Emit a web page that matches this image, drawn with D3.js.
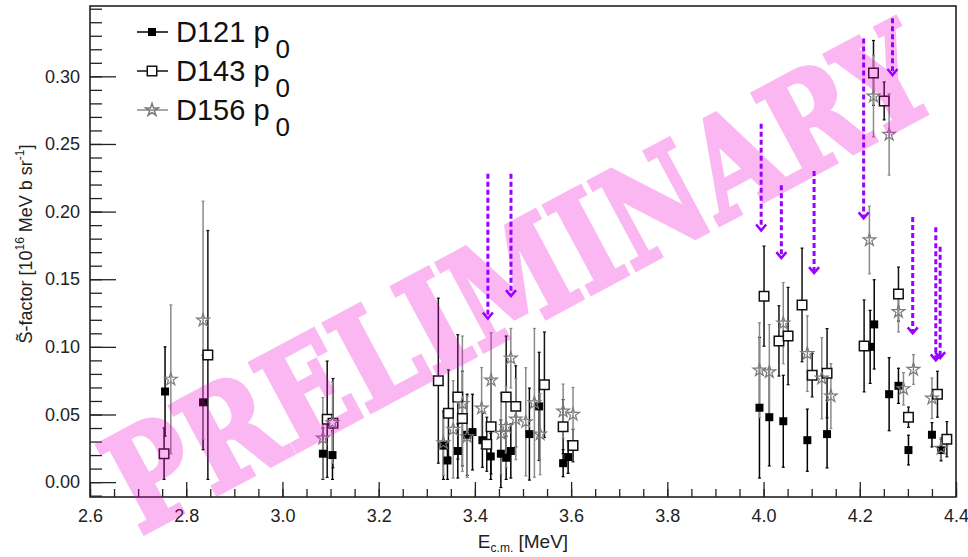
<!DOCTYPE html>
<html>
<head>
<meta charset="utf-8">
<script src="https://cdn.jsdelivr.net/npm/d3@7"></script>
<style>
  body { margin: 0; background: #fff; }
  text { font-family: "Liberation Sans", Arial, sans-serif; }
</style>
</head>
<body>
<div id="vis"></div>
<script>
// data: energy [MeV], S-factor, error
const D121_E   = [2.756, 2.835, 3.084, 3.104, 3.3345, 3.343, 3.3645, 3.384, 3.395, 3.4156, 3.433, 3.454, 3.465, 3.4747, 3.5133, 3.5335, 3.5834, 3.5938, 3.9915, 4.012, 4.041, 4.091, 4.132, 4.2216, 4.23, 4.261, 4.2804, 4.3012, 4.35, 4.369];
const D121_S   = [0.067, 0.059, 0.021, 0.020, 0.027, 0.016, 0.023, 0.035, 0.037, 0.031, 0.019, 0.021, 0.018, 0.023, 0.0355, 0.056, 0.014, 0.0185, 0.055, 0.048, 0.045, 0.031, 0.0355, 0.100, 0.1166, 0.065, 0.0712, 0.0237, 0.035, 0.0237];
const D121_ERR = [0.033, 0.035, 0.019, 0.018, 0.025, 0.014, 0.020, 0.030, 0.028, 0.020, 0.017, 0.025, 0.016, 0.020, 0.034, 0.040, 0.010, 0.012, 0.052, 0.036, 0.034, 0.023, 0.025, 0.027, 0.033, 0.027, 0.013, 0.011, 0.009, 0.008];

const D143_E   = [2.754, 2.845, 3.093, 3.105, 3.324, 3.345, 3.3645, 3.374, 3.4247, 3.4337, 3.465, 3.485, 3.5445, 3.5834, 3.604, 4.001, 4.032, 4.051, 4.080, 4.101, 4.132, 4.209, 4.2285, 4.2507, 4.2804, 4.3012, 4.3615, 4.381];
const D143_S   = [0.021, 0.094, 0.0465, 0.0436, 0.075, 0.051, 0.063, 0.047, 0.028, 0.041, 0.063, 0.056, 0.072, 0.041, 0.027, 0.1375, 0.1044, 0.108, 0.131, 0.079, 0.0805, 0.1007, 0.3025, 0.2818, 0.139, 0.048, 0.065, 0.0317];
const D143_ERR = [0.019, 0.092, 0.043, 0.033, 0.061, 0.032, 0.046, 0.035, 0.020, 0.035, 0.045, 0.030, 0.039, 0.020, 0.012, 0.037, 0.026, 0.036, 0.042, 0.016, 0.033, 0.034, 0.024, 0.014, 0.020, 0.0075, 0.017, 0.013];

const D156_E   = [2.768, 2.835, 3.084, 3.104, 3.3345, 3.355, 3.374, 3.384, 3.414, 3.4337, 3.4545, 3.465, 3.4747, 3.485, 3.5058, 3.5237, 3.5356, 3.5834, 3.604, 3.9915, 4.012, 4.041, 4.091, 4.121, 4.140, 4.220, 4.2285, 4.261, 4.2804, 4.2908, 4.3116, 4.35, 4.369];
const D156_S   = [0.076, 0.1197, 0.0325, 0.044, 0.029, 0.039, 0.058, 0.0335, 0.0547, 0.0754, 0.036, 0.041, 0.0916, 0.0466, 0.0446, 0.0586, 0.0355, 0.0525, 0.050, 0.0828, 0.0815, 0.1175, 0.095, 0.0768, 0.0636, 0.179, 0.2853, 0.257, 0.126, 0.069, 0.0833, 0.062, 0.025];
const D156_ERR = [0.055, 0.088, 0.030, 0.030, 0.024, 0.036, 0.050, 0.030, 0.030, 0.035, 0.030, 0.030, 0.022, 0.030, 0.040, 0.055, 0.030, 0.020, 0.020, 0.035, 0.035, 0.030, 0.028, 0.030, 0.024, 0.025, 0.030, 0.030, 0.015, 0.012, 0.011, 0.015, 0.008];

// purple resonance arrows: energy, top of dashed line, arrow tip
const ARROW_E   = [3.427, 3.475, 3.995, 4.037, 4.105, 4.208, 4.268, 4.310, 4.358, 4.367];
const ARROW_TOP = [0.228, 0.228, 0.265, 0.2195, 0.230, 0.328, 0.343, 0.196, 0.1885, 0.174];
const ARROW_TIP = [0.121, 0.1375, 0.186, 0.1656, 0.1545, 0.195, 0.301, 0.110, 0.090, 0.0917];

const X_TICKS = [2.6, 2.8, 3.0, 3.2, 3.4, 3.6, 3.8, 4.0, 4.2, 4.4];
const Y_TICKS = [0.00, 0.05, 0.10, 0.15, 0.20, 0.25, 0.30];

// setting up the basics
const FRAME_WIDTH = 968;
const FRAME_HEIGHT = 557;
const MARGINS = {left: 90, right: 12, top: 6, bottom: 60};
const VIS_WIDTH = FRAME_WIDTH - MARGINS.left - MARGINS.right;
const VIS_HEIGHT = FRAME_HEIGHT - MARGINS.top - MARGINS.bottom;

const FRAME = d3.select('#vis')
                .append('svg')
                    .attr('width', FRAME_WIDTH)
                    .attr('height', FRAME_HEIGHT);

const X_SCALE = d3.scaleLinear()
    .domain([2.6, 4.4])
    .range([MARGINS.left, MARGINS.left + VIS_WIDTH]);

const Y_SCALE = d3.scaleLinear()
    .domain([-0.011, 0.352])
    .range([MARGINS.top + VIS_HEIGHT, MARGINS.top]);

const BOTTOM = MARGINS.top + VIS_HEIGHT;

// minor ticks
FRAME.append('g')
    .attr('transform', 'translate(' + MARGINS.left + ',0)')
    .call(d3.axisLeft(Y_SCALE).tickValues(d3.range(-0.01, 0.355, 0.01)).tickSize(-12).tickFormat(''))
    .call(g => g.select('.domain').remove())
    .selectAll('line').attr('stroke', '#222').attr('stroke-width', 1.3);

FRAME.append('g')
    .attr('transform', 'translate(0,' + BOTTOM + ')')
    .call(d3.axisBottom(X_SCALE).tickValues(d3.range(2.6, 4.401, 0.05)).tickSize(-8).tickFormat(''))
    .call(g => g.select('.domain').remove())
    .selectAll('line').attr('stroke', '#222').attr('stroke-width', 1.3);

// major ticks + labels
const yAxis = FRAME.append('g')
    .attr('transform', 'translate(' + MARGINS.left + ',0)')
    .call(d3.axisLeft(Y_SCALE).tickValues(Y_TICKS).tickSize(-26).tickPadding(10).tickFormat(d3.format('.2f')))
    .call(g => g.select('.domain').remove());
yAxis.selectAll('line').attr('stroke', '#222').attr('stroke-width', 1.3);
yAxis.selectAll('text').attr('font-size', 18).attr('fill', '#222')
    .style('font-family', '"Liberation Sans", Arial, sans-serif');

const xAxis = FRAME.append('g')
    .attr('transform', 'translate(0,' + BOTTOM + ')')
    .call(d3.axisBottom(X_SCALE).tickValues(X_TICKS).tickSize(-15).tickPadding(12).tickFormat(d3.format('.1f')))
    .call(g => g.select('.domain').remove());
xAxis.selectAll('line').attr('stroke', '#222').attr('stroke-width', 1.3);
xAxis.selectAll('text').attr('font-size', 18).attr('fill', '#222')
    .style('font-family', '"Liberation Sans", Arial, sans-serif');

// frame box
FRAME.append('rect')
    .attr('x', MARGINS.left)
    .attr('y', MARGINS.top)
    .attr('width', VIS_WIDTH)
    .attr('height', VIS_HEIGHT)
    .attr('fill', 'none')
    .attr('stroke', '#222')
    .attr('stroke-width', 1.6);

// axis titles
const xTitle = FRAME.append('text')
    .attr('x', 523)
    .attr('y', 548)
    .attr('text-anchor', 'middle')
    .attr('font-size', 19)
    .attr('fill', '#222');
xTitle.append('tspan').text('E');
xTitle.append('tspan').attr('font-size', 12).attr('dy', 4).text('c.m.');
xTitle.append('tspan').attr('dy', -4).text(' [MeV]');

const yTitle = FRAME.append('text')
    .attr('transform', 'translate(32,244) rotate(-90)')
    .attr('text-anchor', 'middle')
    .attr('font-size', 18)
    .attr('fill', '#222');
yTitle.append('tspan').text('S\u0303-factor [10');
yTitle.append('tspan').attr('font-size', 12).attr('dy', -8).text('16');
yTitle.append('tspan').attr('dy', 8).text(' MeV b sr');
yTitle.append('tspan').attr('font-size', 12).attr('dy', -8).text('-1');
yTitle.append('tspan').attr('dy', 8).text(']');

// series drawing
const SERIES = [
    {name: 'D121', E: D121_E, S: D121_S, err: D121_ERR, bar: '#000', symbol: d3.symbolSquare, size: 64, fill: '#000', stroke: 'none'},
    {name: 'D143', E: D143_E, S: D143_S, err: D143_ERR, bar: '#111', symbol: d3.symbolSquare, size: 90, fill: '#fff', stroke: '#111'},
    {name: 'D156', E: D156_E, S: D156_S, err: D156_ERR, bar: '#8a8a8a', symbol: d3.symbolStar, size: 50, fill: 'none', stroke: '#7a7a7a'}
];

// error bars first, then markers on top
SERIES.forEach((s) => {
    const pts = s.E.map((e, i) => ({e: e, s: s.S[i], err: s.err[i]}));
    const g = FRAME.append('g').attr('class', 'bars-' + s.name);
    g.selectAll('line.bar')
        .data(pts)
        .enter()
        .append('line')
        .attr('x1', d => X_SCALE(d.e))
        .attr('x2', d => X_SCALE(d.e))
        .attr('y1', d => Y_SCALE(d.s + d.err))
        .attr('y2', d => Y_SCALE(Math.max(d.s - d.err, -0.011)))
        .attr('stroke', s.bar)
        .attr('stroke-width', 1.5);
    // little caps
    ['top', 'bot'].forEach((k) => {
        g.selectAll('line.cap-' + k)
            .data(pts)
            .enter()
            .append('line')
            .attr('x1', d => X_SCALE(d.e) - 1.5)
            .attr('x2', d => X_SCALE(d.e) + 1.5)
            .attr('y1', d => Y_SCALE(k === 'top' ? d.s + d.err : d.s - d.err))
            .attr('y2', d => Y_SCALE(k === 'top' ? d.s + d.err : d.s - d.err))
            .attr('stroke', s.bar)
            .attr('stroke-width', 1.2);
    });
});

SERIES.forEach((s) => {
    const pts = s.E.map((e, i) => ({e: e, s: s.S[i]}));
    FRAME.append('g')
        .selectAll('path')
        .data(pts)
        .enter()
        .append('path')
        .attr('transform', d => 'translate(' + X_SCALE(d.e) + ',' + Y_SCALE(d.s) + ')')
        .attr('d', d3.symbol().type(s.symbol).size(s.size))
        .attr('fill', s.fill)
        .attr('stroke', s.stroke)
        .attr('stroke-width', s.symbol === d3.symbolStar ? 1.2 : 1.5);
});

// watermark drawn on top, semi transparent (opacity on the whole element so stroke+fill blend once)
FRAME.append('text')
    .attr('transform', 'translate(518,278) rotate(-28.2)')
    .attr('text-anchor', 'middle')
    .attr('y', 48)
    .attr('textLength', 910)
    .attr('lengthAdjust', 'spacingAndGlyphs')
    .style('font-family', '"DejaVu Serif", serif')
    .attr('font-weight', 'bold')
    .attr('font-size', 136)
    .attr('fill', '#f000d0')
    .attr('stroke', '#f000d0')
    .attr('stroke-width', 5)
    .attr('stroke-linejoin', 'miter')
    .attr('opacity', 0.28)
    .text('PRELIMINARY');

// purple arrows
const ARROWS = ARROW_E.map((e, i) => ({e: e, top: ARROW_TOP[i], tip: ARROW_TIP[i]}));
const arrowG = FRAME.append('g');
arrowG.selectAll('line')
    .data(ARROWS)
    .enter()
    .append('line')
    .attr('x1', d => X_SCALE(d.e))
    .attr('x2', d => X_SCALE(d.e))
    .attr('y1', d => Y_SCALE(d.top))
    .attr('y2', d => Y_SCALE(d.tip) - 2)
    .attr('stroke', '#9900ff')
    .attr('stroke-width', 3)
    .attr('stroke-dasharray', '5,3');
arrowG.selectAll('path')
    .data(ARROWS)
    .enter()
    .append('path')
    .attr('transform', d => 'translate(' + X_SCALE(d.e) + ',' + Y_SCALE(d.tip) + ')')
    .attr('d', 'M-5,-6 L0,0 L5,-6')
    .attr('fill', 'none')
    .attr('stroke', '#9900ff')
    .attr('stroke-width', 2.5);

// legend
const LEGEND = FRAME.append('g');
SERIES.forEach((s, i) => {
    const y = 32 + i * 39;
    LEGEND.append('line')
        .attr('x1', 137).attr('x2', 168)
        .attr('y1', y).attr('y2', y)
        .attr('stroke', s.bar)
        .attr('stroke-width', 1.5);
    LEGEND.append('path')
        .attr('transform', 'translate(152,' + y + ')')
        .attr('d', d3.symbol().type(s.symbol).size(s.size))
        .attr('fill', s.fill)
        .attr('stroke', s.stroke)
        .attr('stroke-width', 1.5);
    const t = LEGEND.append('text')
        .attr('x', 176)
        .attr('y', y + 10)
        .attr('font-size', 29)
        .attr('fill', '#111');
    t.append('tspan').text(s.name + ' p');
    t.append('tspan').attr('font-size', 26).attr('dx', 6).attr('dy', 16).text('0');
});
</script>
</body>
</html>
